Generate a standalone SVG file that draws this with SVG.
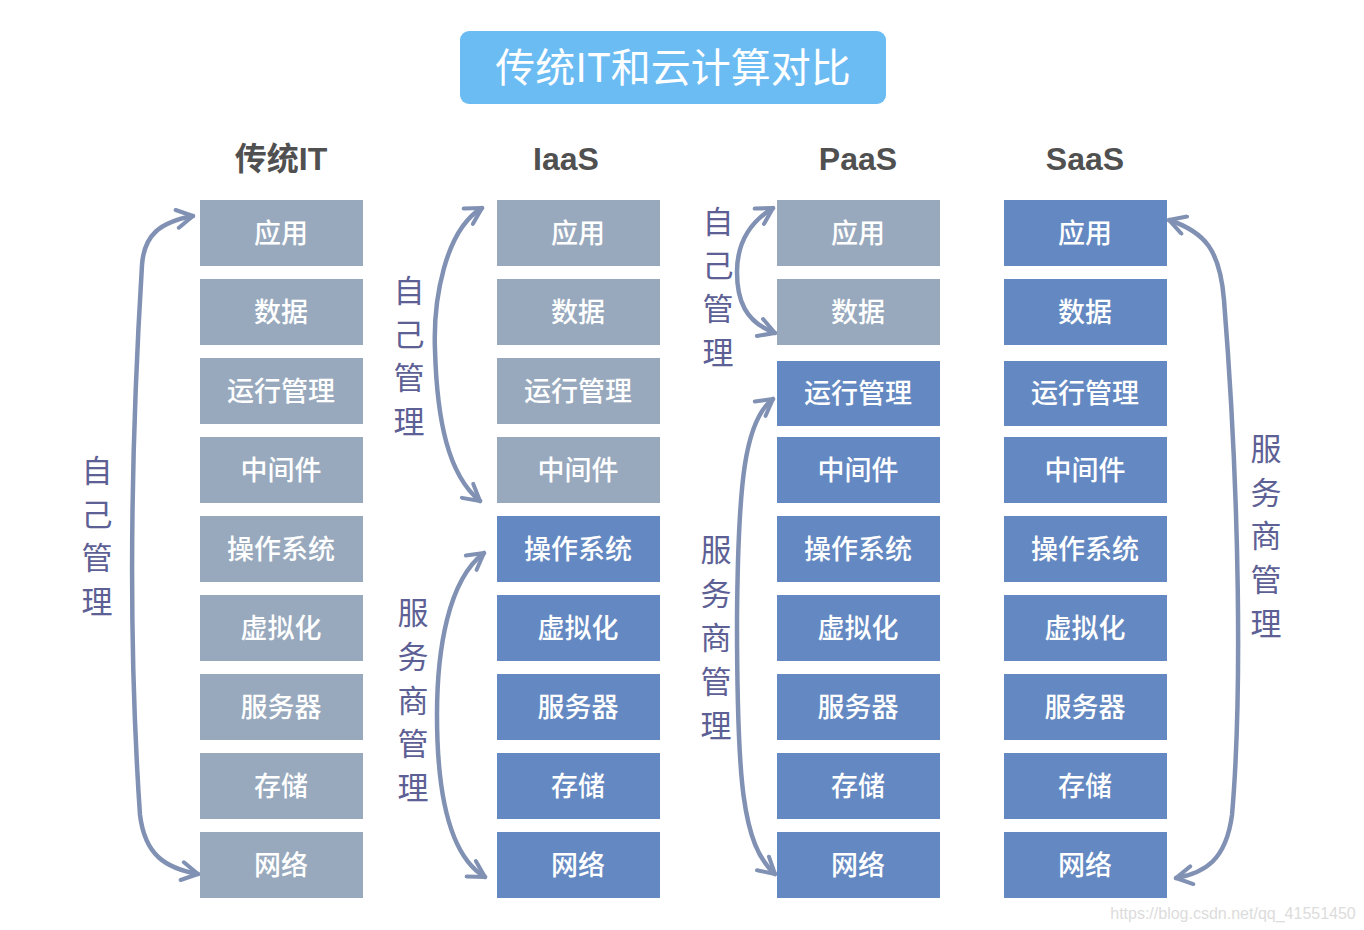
<svg xmlns="http://www.w3.org/2000/svg" width="1364" height="930" viewBox="0 0 1364 930">
<defs>
<style>
.bg{fill:#ffffff}
.g{fill:#98a9bd}
.b{fill:#6489c2}
.bt{font-family:"Noto Sans CJK SC","Noto Sans",sans-serif;font-size:27px;font-weight:500;fill:#ffffff;text-anchor:middle;dominant-baseline:central}
.hd{font-family:"Liberation Sans","Noto Sans CJK SC",sans-serif;font-size:32px;font-weight:bold;fill:#505050;text-anchor:middle}
.lb{font-family:"Noto Sans CJK SC",sans-serif;font-size:31px;fill:#5d6094;text-anchor:middle;dominant-baseline:central}
.ar{fill:none;stroke:#8191b4;stroke-width:4.5;stroke-linecap:round}
</style>
<marker id="chev" viewBox="0 0 22 22" refX="19" refY="11" markerWidth="22" markerHeight="22" markerUnits="userSpaceOnUse" orient="auto-start-reverse">
<path d="M3,2 L19,11 L3,20" fill="none" stroke="#8191b4" stroke-width="4" stroke-linecap="round" stroke-linejoin="round"/>
</marker>
</defs>
<rect class="bg" x="0" y="0" width="1364" height="930"/>
<g id="title">
<rect x="460" y="31" width="426" height="73" rx="9" fill="#6cbcf4"/>
<text x="673" y="65" font-family="Noto Sans CJK SC,sans-serif" font-size="40" fill="#ffffff" text-anchor="middle" dominant-baseline="central">传统IT和云计算对比</text>
</g>
<g id="headers">
<text class="hd" x="281" y="170">传统IT</text>
<text class="hd" x="566" y="170">IaaS</text>
<text class="hd" x="858" y="170">PaaS</text>
<text class="hd" x="1085" y="170">SaaS</text>
</g>
<g id="col-it">
<rect class="g" x="200" y="200" width="163" height="66"/><text class="bt" x="281" y="231">应用</text>
<rect class="g" x="200" y="279" width="163" height="66"/><text class="bt" x="281" y="310">数据</text>
<rect class="g" x="200" y="358" width="163" height="66"/><text class="bt" x="281" y="389">运行管理</text>
<rect class="g" x="200" y="437" width="163" height="66"/><text class="bt" x="281" y="468">中间件</text>
<rect class="g" x="200" y="516" width="163" height="66"/><text class="bt" x="281" y="547">操作系统</text>
<rect class="g" x="200" y="595" width="163" height="66"/><text class="bt" x="281" y="626">虚拟化</text>
<rect class="g" x="200" y="674" width="163" height="66"/><text class="bt" x="281" y="705">服务器</text>
<rect class="g" x="200" y="753" width="163" height="66"/><text class="bt" x="281" y="784">存储</text>
<rect class="g" x="200" y="832" width="163" height="66"/><text class="bt" x="281" y="863">网络</text>
</g>
<g id="col-iaas">
<rect class="g" x="497" y="200" width="163" height="66"/><text class="bt" x="578" y="231">应用</text>
<rect class="g" x="497" y="279" width="163" height="66"/><text class="bt" x="578" y="310">数据</text>
<rect class="g" x="497" y="358" width="163" height="66"/><text class="bt" x="578" y="389">运行管理</text>
<rect class="g" x="497" y="437" width="163" height="66"/><text class="bt" x="578" y="468">中间件</text>
<rect class="b" x="497" y="516" width="163" height="66"/><text class="bt" x="578" y="547">操作系统</text>
<rect class="b" x="497" y="595" width="163" height="66"/><text class="bt" x="578" y="626">虚拟化</text>
<rect class="b" x="497" y="674" width="163" height="66"/><text class="bt" x="578" y="705">服务器</text>
<rect class="b" x="497" y="753" width="163" height="66"/><text class="bt" x="578" y="784">存储</text>
<rect class="b" x="497" y="832" width="163" height="66"/><text class="bt" x="578" y="863">网络</text>
</g>
<g id="col-paas">
<rect class="g" x="777" y="200" width="163" height="66"/><text class="bt" x="858" y="231">应用</text>
<rect class="g" x="777" y="279" width="163" height="66"/><text class="bt" x="858" y="310">数据</text>
<rect class="b" x="777" y="361" width="163" height="65"/><text class="bt" x="858" y="391">运行管理</text>
<rect class="b" x="777" y="437" width="163" height="66"/><text class="bt" x="858" y="468">中间件</text>
<rect class="b" x="777" y="516" width="163" height="66"/><text class="bt" x="858" y="547">操作系统</text>
<rect class="b" x="777" y="595" width="163" height="66"/><text class="bt" x="858" y="626">虚拟化</text>
<rect class="b" x="777" y="674" width="163" height="66"/><text class="bt" x="858" y="705">服务器</text>
<rect class="b" x="777" y="753" width="163" height="66"/><text class="bt" x="858" y="784">存储</text>
<rect class="b" x="777" y="832" width="163" height="66"/><text class="bt" x="858" y="863">网络</text>
</g>
<g id="col-saas">
<rect class="b" x="1004" y="200" width="163" height="66"/><text class="bt" x="1085" y="231">应用</text>
<rect class="b" x="1004" y="279" width="163" height="66"/><text class="bt" x="1085" y="310">数据</text>
<rect class="b" x="1004" y="361" width="163" height="65"/><text class="bt" x="1085" y="391">运行管理</text>
<rect class="b" x="1004" y="437" width="163" height="66"/><text class="bt" x="1085" y="468">中间件</text>
<rect class="b" x="1004" y="516" width="163" height="66"/><text class="bt" x="1085" y="547">操作系统</text>
<rect class="b" x="1004" y="595" width="163" height="66"/><text class="bt" x="1085" y="626">虚拟化</text>
<rect class="b" x="1004" y="674" width="163" height="66"/><text class="bt" x="1085" y="705">服务器</text>
<rect class="b" x="1004" y="753" width="163" height="66"/><text class="bt" x="1085" y="784">存储</text>
<rect class="b" x="1004" y="832" width="163" height="66"/><text class="bt" x="1085" y="863">网络</text>
</g>
<g id="labels">
<g id="label-it-self"><text class="lb" x="97" y="468">自</text><text class="lb" x="97" y="512">己</text><text class="lb" x="97" y="555">管</text><text class="lb" x="97" y="599">理</text></g>
<g id="label-iaas-self"><text class="lb" x="409" y="288">自</text><text class="lb" x="409" y="332">己</text><text class="lb" x="409" y="375">管</text><text class="lb" x="409" y="419">理</text></g>
<g id="label-iaas-vendor"><text class="lb" x="413" y="610">服</text><text class="lb" x="413" y="654">务</text><text class="lb" x="413" y="698">商</text><text class="lb" x="413" y="741">管</text><text class="lb" x="413" y="785">理</text></g>
<g id="label-paas-self"><text class="lb" x="718" y="219">自</text><text class="lb" x="718" y="263">己</text><text class="lb" x="718" y="306">管</text><text class="lb" x="718" y="350">理</text></g>
<g id="label-paas-vendor"><text class="lb" x="716" y="547">服</text><text class="lb" x="716" y="591">务</text><text class="lb" x="716" y="635">商</text><text class="lb" x="716" y="679">管</text><text class="lb" x="716" y="723">理</text></g>
<g id="label-saas-vendor"><text class="lb" x="1266" y="446">服</text><text class="lb" x="1266" y="490">务</text><text class="lb" x="1266" y="533">商</text><text class="lb" x="1266" y="577">管</text><text class="lb" x="1266" y="621">理</text></g>
</g>
<g id="connectors">
<path class="ar" marker-start="url(#chev)" marker-end="url(#chev)" d="M193,216 C160,222 144,235 142,265 C130,460 128,640 140,815 C145,855 165,868 198,874"/>
<path class="ar" marker-start="url(#chev)" marker-end="url(#chev)" d="M482,208 C445,230 433,300 435,350 C437,420 448,475 480,501"/>
<path class="ar" marker-start="url(#chev)" marker-end="url(#chev)" d="M484,553 C448,580 437,650 437,715 C437,790 448,855 485,877"/>
<path class="ar" marker-start="url(#chev)" marker-end="url(#chev)" d="M773,208 C745,225 737,250 737,272 C737,300 745,322 775,333"/>
<path class="ar" marker-start="url(#chev)" marker-end="url(#chev)" d="M773,399 C745,420 738,480 737,620 C737,780 742,845 775,874"/>
<path class="ar" marker-start="url(#chev)" marker-end="url(#chev)" d="M1169,220 C1205,232 1220,250 1224,300 C1240,500 1242,700 1232,815 C1226,860 1205,873 1176,878"/>
</g>
<text x="1233" y="919" font-family="Liberation Sans,Arial,sans-serif" font-size="16" fill="#dcdcdc" text-anchor="middle">https://blog.csdn.net/qq_41551450</text>
</svg>
